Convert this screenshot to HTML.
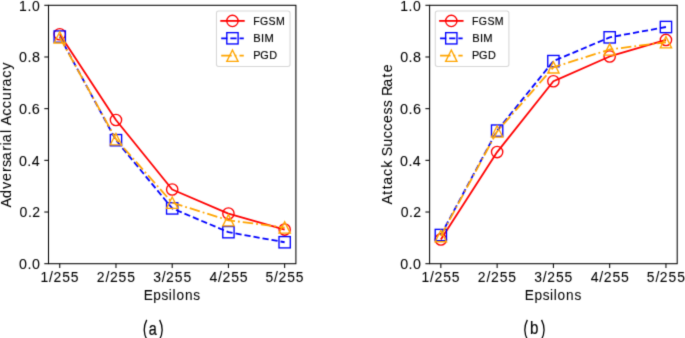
<!DOCTYPE html>
<html><head><meta charset="utf-8"><style>
html,body{margin:0;padding:0;background:#fff;width:685px;height:338px;overflow:hidden}
</style></head><body>
<svg width="685" height="338" viewBox="0 0 685 338" style="display:block;will-change:transform">
<defs><filter id="bl" x="0" y="0" width="1" height="1" color-interpolation-filters="sRGB"><feConvolveMatrix order="3" kernelMatrix="0.0169 0.0962 0.0169 0.0962 0.5476 0.0962 0.0169 0.0962 0.0169" divisor="1.0000" edgeMode="duplicate"/></filter></defs><g filter="url(#bl)">
<rect width="685" height="338" fill="#fff"/>
<g font-family='"Liberation Sans", sans-serif' fill="#000" stroke="#000" stroke-width="0.06" style="font-kerning:none">
<rect x="48.50" y="5.30" width="247.40" height="258.40" fill="none" stroke="#000" stroke-width="1.04"/>
<line x1="44.30" y1="263.70" x2="48.50" y2="263.70" stroke="#000" stroke-width="1.04"/>
<text transform="translate(0,268.90) scale(1.0189,1)" x="18.70 26.96 31.34" font-size="14.0">0.0</text>
<line x1="44.30" y1="212.02" x2="48.50" y2="212.02" stroke="#000" stroke-width="1.04"/>
<text transform="translate(0,217.22) scale(1.0027,1)" x="19.52 27.88 32.18" font-size="14.0">0.2</text>
<line x1="44.30" y1="160.34" x2="48.50" y2="160.34" stroke="#000" stroke-width="1.04"/>
<text transform="translate(0,165.54) scale(1.0189,1)" x="18.56 26.83 31.20" font-size="14.0">0.4</text>
<line x1="44.30" y1="108.66" x2="48.50" y2="108.66" stroke="#000" stroke-width="1.04"/>
<text transform="translate(0,113.86) scale(1.0348,1)" x="18.31 26.47 30.75" font-size="14.0">0.6</text>
<line x1="44.30" y1="56.98" x2="48.50" y2="56.98" stroke="#000" stroke-width="1.04"/>
<text transform="translate(0,62.18) scale(1.0239,1)" x="18.61 26.85 31.19" font-size="14.0">0.8</text>
<line x1="44.30" y1="5.30" x2="48.50" y2="5.30" stroke="#000" stroke-width="1.04"/>
<text transform="translate(0,10.50) scale(0.9994,1)" x="19.07 27.53 32.03" font-size="14.0">1.0</text>
<line x1="59.75" y1="263.70" x2="59.75" y2="267.90" stroke="#000" stroke-width="1.04"/>
<text transform="translate(0,282.20) scale(0.9937,1)" x="40.65 49.28 53.76 62.53 71.18" font-size="14.0">1/255</text>
<line x1="115.97" y1="263.70" x2="115.97" y2="267.90" stroke="#000" stroke-width="1.04"/>
<text transform="translate(0,282.20) scale(0.9953,1)" x="97.21 105.94 110.41 119.16 127.79" font-size="14.0">2/255</text>
<line x1="172.20" y1="263.70" x2="172.20" y2="267.90" stroke="#000" stroke-width="1.04"/>
<text transform="translate(0,282.20) scale(0.9944,1)" x="154.02 162.56 167.03 175.80 184.43" font-size="14.0">3/255</text>
<line x1="228.43" y1="263.70" x2="228.43" y2="267.90" stroke="#000" stroke-width="1.04"/>
<text transform="translate(0,282.20) scale(1.0035,1)" x="208.79 217.29 221.70 230.39 238.95" font-size="14.0">4/255</text>
<line x1="284.65" y1="263.70" x2="284.65" y2="267.90" stroke="#000" stroke-width="1.04"/>
<text transform="translate(0,282.20) scale(0.9907,1)" x="268.04 276.68 281.18 289.97 298.64" font-size="14.0">5/255</text>
<text transform="translate(0,300.20) scale(0.9627,1)" x="149.24 159.16 167.77 175.33 179.27 183.22 192.10 200.77" font-size="14.2">Epsilons</text>
<text transform="translate(10.80,207.52) rotate(-90) scale(1.0046,1)" x="-0.03 9.52 18.45 26.40 35.30 40.36 47.16 56.58 61.85 65.09 74.11 77.82 81.96 91.24 98.82 106.70 115.79 120.47 129.23 137.25" font-size="14.2">Adversarial Accuracy</text>
<rect x="429.60" y="5.30" width="247.60" height="258.40" fill="none" stroke="#000" stroke-width="1.04"/>
<line x1="425.40" y1="263.70" x2="429.60" y2="263.70" stroke="#000" stroke-width="1.04"/>
<text transform="translate(0,268.90) scale(1.0189,1)" x="392.72 400.98 405.36" font-size="14.0">0.0</text>
<line x1="425.40" y1="212.02" x2="429.60" y2="212.02" stroke="#000" stroke-width="1.04"/>
<text transform="translate(0,217.22) scale(1.0027,1)" x="399.58 407.95 412.25" font-size="14.0">0.2</text>
<line x1="425.40" y1="160.34" x2="429.60" y2="160.34" stroke="#000" stroke-width="1.04"/>
<text transform="translate(0,165.54) scale(1.0189,1)" x="392.58 400.85 405.22" font-size="14.0">0.4</text>
<line x1="425.40" y1="108.66" x2="429.60" y2="108.66" stroke="#000" stroke-width="1.04"/>
<text transform="translate(0,113.86) scale(1.0348,1)" x="386.58 394.75 399.03" font-size="14.0">0.6</text>
<line x1="425.40" y1="56.98" x2="429.60" y2="56.98" stroke="#000" stroke-width="1.04"/>
<text transform="translate(0,62.18) scale(1.0239,1)" x="390.82 399.05 403.40" font-size="14.0">0.8</text>
<line x1="425.40" y1="5.30" x2="429.60" y2="5.30" stroke="#000" stroke-width="1.04"/>
<text transform="translate(0,10.50) scale(0.9994,1)" x="400.38 408.84 413.34" font-size="14.0">1.0</text>
<line x1="440.85" y1="263.70" x2="440.85" y2="267.90" stroke="#000" stroke-width="1.04"/>
<text transform="translate(0,282.20) scale(0.9937,1)" x="424.18 432.81 437.29 446.06 454.70" font-size="14.0">1/255</text>
<line x1="497.13" y1="263.70" x2="497.13" y2="267.90" stroke="#000" stroke-width="1.04"/>
<text transform="translate(0,282.20) scale(0.9953,1)" x="480.14 488.87 493.34 502.10 510.73" font-size="14.0">2/255</text>
<line x1="553.40" y1="263.70" x2="553.40" y2="267.90" stroke="#000" stroke-width="1.04"/>
<text transform="translate(0,282.20) scale(0.9944,1)" x="537.36 545.90 550.37 559.13 567.77" font-size="14.0">3/255</text>
<line x1="609.67" y1="263.70" x2="609.67" y2="267.90" stroke="#000" stroke-width="1.04"/>
<text transform="translate(0,282.20) scale(1.0035,1)" x="588.71 597.21 601.62 610.31 618.87" font-size="14.0">4/255</text>
<line x1="665.95" y1="263.70" x2="665.95" y2="267.90" stroke="#000" stroke-width="1.04"/>
<text transform="translate(0,282.20) scale(0.9907,1)" x="652.91 661.54 666.04 674.84 683.51" font-size="14.0">5/255</text>
<text transform="translate(0,300.20) scale(0.9627,1)" x="545.19 555.11 563.72 571.28 575.22 579.17 588.05 596.72" font-size="14.2">Epsilons</text>
<text transform="translate(391.80,204.60) rotate(-90) scale(1.0002,1)" x="-0.01 9.93 15.35 19.85 28.65 36.74 44.40 48.30 57.76 66.22 73.83 81.68 90.01 97.22 104.50 108.58 117.76 127.17 132.23" font-size="14.2">Attack Success Rate</text>
<path d="M59.75,34.24 L115.97,120.03 L172.20,189.54 L228.43,213.57 L284.65,229.59" fill="none" stroke="#ff0000" stroke-width="1.8" stroke-linejoin="round"/>
<circle cx="59.75" cy="34.24" r="5.65" fill="none" stroke="#ff0000" stroke-width="1.35"/>
<circle cx="115.97" cy="120.03" r="5.65" fill="none" stroke="#ff0000" stroke-width="1.35"/>
<circle cx="172.20" cy="189.54" r="5.65" fill="none" stroke="#ff0000" stroke-width="1.35"/>
<circle cx="228.43" cy="213.57" r="5.65" fill="none" stroke="#ff0000" stroke-width="1.35"/>
<circle cx="284.65" cy="229.59" r="5.65" fill="none" stroke="#ff0000" stroke-width="1.35"/>
<path d="M59.75,36.57 L115.97,140.18 L172.20,208.40 L228.43,232.18 L284.65,242.25" fill="none" stroke="#0000ff" stroke-width="1.8" stroke-dasharray="6.2 2.95" stroke-linejoin="round"/>
<rect x="54.10" y="30.92" width="11.30" height="11.30" fill="none" stroke="#0000ff" stroke-width="1.35"/>
<rect x="110.32" y="134.53" width="11.30" height="11.30" fill="none" stroke="#0000ff" stroke-width="1.35"/>
<rect x="166.55" y="202.75" width="11.30" height="11.30" fill="none" stroke="#0000ff" stroke-width="1.35"/>
<rect x="222.78" y="226.53" width="11.30" height="11.30" fill="none" stroke="#0000ff" stroke-width="1.35"/>
<rect x="279.00" y="236.60" width="11.30" height="11.30" fill="none" stroke="#0000ff" stroke-width="1.35"/>
<path d="M59.75,37.34 L115.97,139.15 L172.20,202.72 L228.43,220.29 L284.65,227.52" fill="none" stroke="#ffa500" stroke-width="1.8" stroke-dasharray="10.5 3.0 1.8 3.0" stroke-linejoin="round"/>
<path d="M59.75,31.69 L54.10,42.99 L65.40,42.99 Z" fill="none" stroke="#ffa500" stroke-width="1.35" stroke-miterlimit="10"/>
<path d="M115.97,133.50 L110.32,144.80 L121.62,144.80 Z" fill="none" stroke="#ffa500" stroke-width="1.35" stroke-miterlimit="10"/>
<path d="M172.20,197.07 L166.55,208.37 L177.85,208.37 Z" fill="none" stroke="#ffa500" stroke-width="1.35" stroke-miterlimit="10"/>
<path d="M228.43,214.64 L222.78,225.94 L234.08,225.94 Z" fill="none" stroke="#ffa500" stroke-width="1.35" stroke-miterlimit="10"/>
<path d="M284.65,221.87 L279.00,233.17 L290.30,233.17 Z" fill="none" stroke="#ffa500" stroke-width="1.35" stroke-miterlimit="10"/>
<path d="M440.85,239.41 L497.13,152.07 L553.40,81.27 L609.67,56.46 L665.95,39.93" fill="none" stroke="#ff0000" stroke-width="1.8" stroke-linejoin="round"/>
<circle cx="440.85" cy="239.41" r="5.65" fill="none" stroke="#ff0000" stroke-width="1.35"/>
<circle cx="497.13" cy="152.07" r="5.65" fill="none" stroke="#ff0000" stroke-width="1.35"/>
<circle cx="553.40" cy="81.27" r="5.65" fill="none" stroke="#ff0000" stroke-width="1.35"/>
<circle cx="609.67" cy="56.46" r="5.65" fill="none" stroke="#ff0000" stroke-width="1.35"/>
<circle cx="665.95" cy="39.93" r="5.65" fill="none" stroke="#ff0000" stroke-width="1.35"/>
<path d="M440.85,235.02 L497.13,130.62 L553.40,61.11 L609.67,37.34 L665.95,27.01" fill="none" stroke="#0000ff" stroke-width="1.8" stroke-dasharray="6.2 2.95" stroke-linejoin="round"/>
<rect x="435.20" y="229.37" width="11.30" height="11.30" fill="none" stroke="#0000ff" stroke-width="1.35"/>
<rect x="491.48" y="124.97" width="11.30" height="11.30" fill="none" stroke="#0000ff" stroke-width="1.35"/>
<rect x="547.75" y="55.46" width="11.30" height="11.30" fill="none" stroke="#0000ff" stroke-width="1.35"/>
<rect x="604.02" y="31.69" width="11.30" height="11.30" fill="none" stroke="#0000ff" stroke-width="1.35"/>
<rect x="660.30" y="21.36" width="11.30" height="11.30" fill="none" stroke="#0000ff" stroke-width="1.35"/>
<path d="M440.85,236.05 L497.13,131.40 L553.40,67.32 L609.67,49.49 L665.95,42.25" fill="none" stroke="#ffa500" stroke-width="1.8" stroke-dasharray="10.5 3.0 1.8 3.0" stroke-linejoin="round"/>
<path d="M440.85,230.40 L435.20,241.70 L446.50,241.70 Z" fill="none" stroke="#ffa500" stroke-width="1.35" stroke-miterlimit="10"/>
<path d="M497.13,125.75 L491.48,137.05 L502.78,137.05 Z" fill="none" stroke="#ffa500" stroke-width="1.35" stroke-miterlimit="10"/>
<path d="M553.40,61.67 L547.75,72.97 L559.05,72.97 Z" fill="none" stroke="#ffa500" stroke-width="1.35" stroke-miterlimit="10"/>
<path d="M609.67,43.84 L604.02,55.14 L615.32,55.14 Z" fill="none" stroke="#ffa500" stroke-width="1.35" stroke-miterlimit="10"/>
<path d="M665.95,36.60 L660.30,47.90 L671.60,47.90 Z" fill="none" stroke="#ffa500" stroke-width="1.35" stroke-miterlimit="10"/>
<rect x="216.45" y="11.05" width="73.6" height="55.4" rx="2.2" ry="2.2" fill="#fff" fill-opacity="0.8" stroke="#cccccc" stroke-opacity="0.8" stroke-width="1.04"/>
<line x1="221.20" y1="20.9" x2="243.80" y2="20.9" stroke="#ff0000" stroke-width="1.8" stroke-linecap="square"/>
<circle cx="232.45" cy="20.90" r="5.65" fill="none" stroke="#ff0000" stroke-width="1.35"/>
<text transform="translate(0,24.60) scale(0.9087,1)" x="278.71 286.08 295.53 303.77" font-size="11.6" stroke-width="0.15">FGSM</text>
<line x1="221.20" y1="38.3" x2="243.80" y2="38.3" stroke="#0000ff" stroke-width="1.8" stroke-dasharray="6.2 2.95"/>
<rect x="226.80" y="32.65" width="11.30" height="11.30" fill="none" stroke="#0000ff" stroke-width="1.35"/>
<text transform="translate(0,42.20) scale(0.9610,1)" x="263.65 271.66 275.21" font-size="11.6" stroke-width="0.15">BIM</text>
<line x1="221.20" y1="55.7" x2="243.80" y2="55.7" stroke="#ffa500" stroke-width="1.8" stroke-dasharray="10.5 3.0 1.8 3.0"/>
<path d="M232.45,50.05 L226.80,61.35 L238.10,61.35 Z" fill="none" stroke="#ffa500" stroke-width="1.35" stroke-miterlimit="10"/>
<text transform="translate(0,59.20) scale(0.9387,1)" x="269.76 277.14 286.77" font-size="11.6" stroke-width="0.15">PGD</text>
<rect x="435.30" y="11.05" width="73.6" height="55.4" rx="2.2" ry="2.2" fill="#fff" fill-opacity="0.8" stroke="#cccccc" stroke-opacity="0.8" stroke-width="1.04"/>
<line x1="440.05" y1="20.9" x2="462.65" y2="20.9" stroke="#ff0000" stroke-width="1.8" stroke-linecap="square"/>
<circle cx="451.30" cy="20.90" r="5.65" fill="none" stroke="#ff0000" stroke-width="1.35"/>
<text transform="translate(0,24.60) scale(0.9087,1)" x="519.55 526.91 536.37 544.61" font-size="11.6" stroke-width="0.15">FGSM</text>
<line x1="440.05" y1="38.3" x2="462.65" y2="38.3" stroke="#0000ff" stroke-width="1.8" stroke-dasharray="6.2 2.95"/>
<rect x="445.65" y="32.65" width="11.30" height="11.30" fill="none" stroke="#0000ff" stroke-width="1.35"/>
<text transform="translate(0,42.20) scale(0.9610,1)" x="491.37 499.38 502.93" font-size="11.6" stroke-width="0.15">BIM</text>
<line x1="440.05" y1="55.7" x2="462.65" y2="55.7" stroke="#ffa500" stroke-width="1.8" stroke-dasharray="10.5 3.0 1.8 3.0"/>
<path d="M451.30,50.05 L445.65,61.35 L456.95,61.35 Z" fill="none" stroke="#ffa500" stroke-width="1.35" stroke-miterlimit="10"/>
<text transform="translate(0,59.20) scale(0.9387,1)" x="502.91 510.30 519.93" font-size="11.6" stroke-width="0.15">PGD</text>
<path d="M146.75,319.90 Q141.75,329.70 146.75,339.50" fill="none" stroke="#000" stroke-width="1.3"/>
<path d="M159.65,319.90 Q164.65,329.70 159.65,339.50" fill="none" stroke="#000" stroke-width="1.3"/>
<text transform="translate(148.79,334.60) scale(0.7503,1)" font-size="19.2" stroke-width="0.2">a</text>
<path d="M527.35,319.90 Q522.35,329.70 527.35,339.50" fill="none" stroke="#000" stroke-width="1.3"/>
<path d="M541.55,319.90 Q546.55,329.70 541.55,339.50" fill="none" stroke="#000" stroke-width="1.3"/>
<text transform="translate(530.03,334.00) scale(0.8308,1)" font-size="18.2" stroke-width="0.2">b</text>
</g></g></svg>
</body></html>
